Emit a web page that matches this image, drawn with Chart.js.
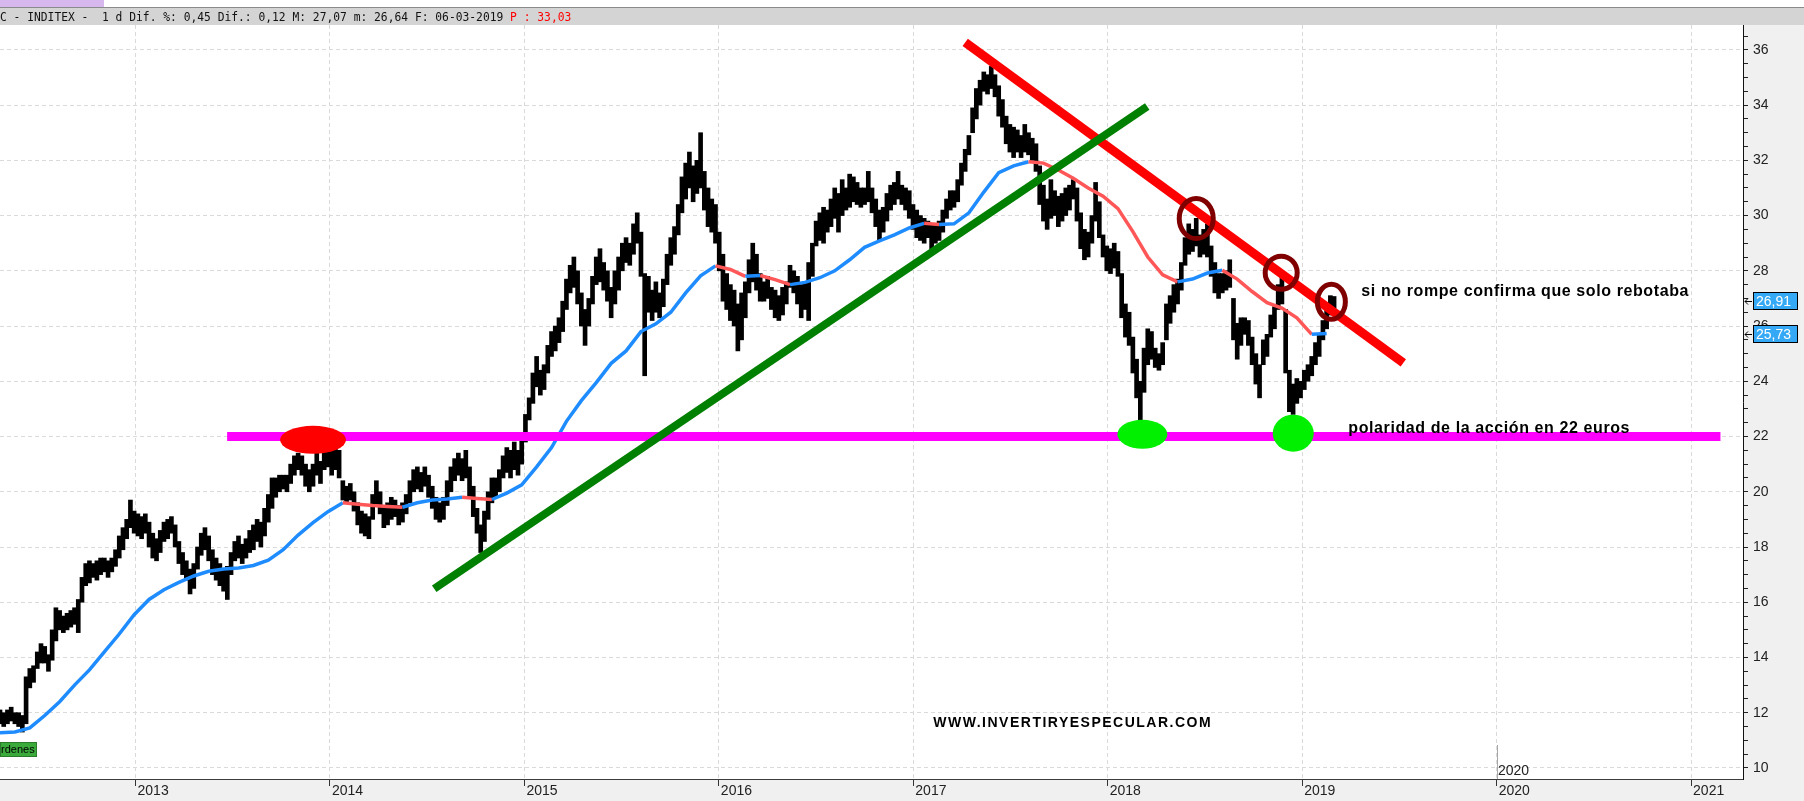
<!DOCTYPE html>
<html>
<head>
<meta charset="utf-8">
<title>INDITEX</title>
<script src="https://cdn.jsdelivr.net/npm/chart.js@4.4.1/dist/chart.umd.min.js"></script>
<style>
    html, body { margin: 0; padding: 0; background: #fff; }
    #chart { display: block; }
</style>
</head>
<body>
<canvas id="chart" width="1804" height="801"></canvas>
<script>
const firstWeek = 2012.303;      // fractional year of the first weekly bar
const weekLen = 7 / 365.25;

const priceLow = [
    11.6, 11.5, 11.6, 11.7, 11.6, 11.5, 11.3, 11.6, 12.9, 13.1,
    13.6, 13.8, 13.8, 13.5, 13.9, 14.6, 15.0, 14.9, 15.0, 15.1,
    15.2, 14.9, 16.0, 16.6, 16.7, 16.9, 16.8, 17.0, 17.1, 16.9,
    17.1, 17.3, 17.6, 17.9, 18.3, 18.7, 18.5, 18.4, 18.3, 18.5,
    18.0, 17.6, 17.5, 17.8, 18.2, 18.3, 18.5, 18.0, 17.4, 17.0,
    16.8, 16.3, 16.5, 17.2, 17.7, 17.9, 17.5, 17.0, 16.8, 16.6,
    16.4, 16.1, 17.0, 17.5, 17.6, 17.4, 17.6, 17.8, 17.9, 18.2,
    18.0, 18.4, 18.9, 19.4, 19.8, 20.0, 20.1, 20.0, 20.3, 20.6,
    20.8, 20.6, 20.2, 20.0, 20.2, 20.6, 20.3, 20.8, 20.9, 20.6,
    20.8, 20.5, 19.7, 19.6, 19.7, 19.3, 18.8, 18.5, 18.4, 18.3,
    19.0, 19.5, 19.2, 18.7, 18.8, 19.0, 19.1, 18.8, 18.9, 19.2,
    19.6, 20.0, 20.1, 20.0, 20.2, 19.8, 19.4, 19.0, 18.9, 19.0,
    19.5, 20.0, 20.4, 20.6, 20.4, 20.5, 19.8, 19.1, 18.5, 17.8,
    18.2, 19.0, 19.6, 19.8, 20.0, 20.5, 20.7, 20.5, 20.8, 20.6,
    21.0, 21.8, 22.6, 23.2, 23.8, 23.5, 23.7, 24.3, 24.9, 25.1,
    25.4, 25.8, 26.6, 27.2, 27.4, 26.8, 26.0, 25.3, 26.0, 26.8,
    27.5, 27.6, 27.3, 26.9, 26.3, 26.8, 27.3, 28.0, 28.3, 28.2,
    28.6, 29.0, 27.8, 24.2, 26.5, 26.2, 26.5, 26.3, 26.7, 27.5,
    28.2, 28.6, 29.3, 30.1, 30.6, 31.0, 30.5, 30.8, 31.0, 30.2,
    29.6, 29.4, 29.0, 28.0, 26.9, 26.6, 26.2, 26.0, 25.1, 25.5,
    26.3, 27.2, 27.6, 27.3, 26.9, 26.9, 27.0, 26.6, 26.3, 26.2,
    26.4, 26.8, 27.4, 27.2, 26.8, 26.3, 26.6, 26.2, 27.8, 28.9,
    29.1, 29.0, 29.4, 29.6, 29.9, 29.4, 30.0, 30.2, 30.3, 30.5,
    30.4, 30.3, 30.4, 30.5, 30.1, 29.6, 29.1, 29.4, 29.8, 30.2,
    30.4, 30.6, 30.4, 30.2, 29.9, 29.5, 29.2, 29.1, 29.0, 29.2,
    28.8, 29.0, 29.1, 29.4, 29.9, 30.2, 30.3, 30.5, 31.1, 31.6,
    32.2, 33.0, 33.5, 34.0, 34.5, 34.4, 34.6, 34.3, 33.6, 33.2,
    32.6, 32.3, 32.1, 32.3, 32.1, 32.3, 32.2, 32.0, 31.6, 30.4,
    29.8, 29.5, 29.9, 30.0, 29.6, 29.8, 30.0, 30.2, 30.6, 29.8,
    28.8, 28.4, 28.5, 29.0, 29.8, 29.2, 28.5, 28.0, 27.9, 28.1,
    27.8, 26.3, 25.6, 25.3, 24.3, 23.4, 22.6, 23.6, 24.6, 24.8,
    24.5, 24.4, 24.6, 25.5, 26.1, 26.5, 26.8, 27.3, 28.2, 28.6,
    28.7, 28.9, 28.5, 28.6, 28.5, 27.8, 27.2, 27.0, 27.2, 27.3,
    27.4, 25.5, 24.8, 25.3, 25.7, 25.3, 24.6, 23.9, 23.4, 24.6,
    24.9, 25.6, 25.9, 26.6, 26.8, 24.3, 22.9, 22.8, 23.2, 23.4,
    23.7, 24.0, 24.2, 24.6, 24.9, 25.5, 25.9, 26.4, 26.64
];
const priceHigh = [
    12.1, 12.0, 12.1, 12.2, 12.0, 12.0, 11.9, 13.3, 13.6, 13.7,
    14.2, 14.5, 14.4, 14.1, 15.0, 15.8, 15.7, 15.5, 15.6, 15.7,
    15.8, 16.1, 16.9, 17.4, 17.5, 17.4, 17.5, 17.6, 17.6, 17.5,
    17.6, 17.9, 18.4, 18.7, 19.0, 19.7, 19.3, 19.2, 19.1, 19.2,
    18.9, 18.5, 18.3, 18.6, 18.9, 19.0, 19.1, 18.8, 18.2, 17.8,
    17.5, 17.2, 17.4, 18.0, 18.5, 18.7, 18.4, 17.9, 17.6, 17.4,
    17.2, 17.3, 17.8, 18.2, 18.4, 18.1, 18.3, 18.6, 18.8, 19.0,
    18.9, 19.4, 19.9, 20.5, 20.5, 20.6, 20.6, 20.6, 21.0, 21.3,
    21.4, 21.3, 21.0, 20.8, 21.0, 21.4, 21.1, 21.6, 21.7, 21.5,
    21.6, 21.5, 20.4, 20.2, 20.3, 20.0, 19.6, 19.3, 19.2, 19.1,
    19.9, 20.4, 20.0, 19.5, 19.6, 19.8, 19.7, 19.5, 19.6, 19.9,
    20.4, 20.8, 20.9, 20.7, 20.9, 20.6, 20.2, 19.8, 19.6, 19.8,
    20.4, 20.9, 21.2, 21.4, 21.2, 21.5, 20.9, 20.2, 19.4, 18.8,
    19.3, 20.0, 20.5, 20.5, 20.8, 21.3, 21.6, 21.5, 21.8, 21.5,
    21.9, 22.8, 23.4, 24.3, 24.9, 24.4, 24.6, 25.3, 25.8, 26.0,
    26.3, 26.9, 27.7, 28.2, 28.5, 28.0, 27.2, 26.6, 27.0, 27.8,
    28.5, 28.8, 28.3, 28.0, 27.4, 28.0, 28.5, 29.0, 29.2, 29.0,
    29.7, 30.1, 29.4, 27.9, 27.8, 27.3, 27.6, 27.2, 27.7, 28.6,
    29.2, 29.6, 30.4, 31.4, 31.9, 32.3, 31.8, 32.0, 33.0, 31.6,
    31.0, 30.6, 30.4, 29.4, 28.6, 27.9, 27.5, 27.3, 26.8, 27.2,
    27.6, 28.4, 29.0, 28.6, 27.9, 27.6, 27.8, 27.4, 27.3, 27.1,
    27.4, 27.6, 28.2, 28.0, 27.8, 27.5, 27.6, 28.3, 29.0, 29.8,
    30.1, 30.3, 30.2, 30.6, 31.0, 30.8, 31.3, 31.0, 31.5, 31.4,
    31.2, 31.0, 31.0, 31.6, 31.0, 30.6, 30.2, 30.3, 30.8, 31.1,
    31.2, 31.6, 31.1, 31.0, 30.9, 30.4, 30.2, 30.0, 29.9, 29.8,
    29.7, 29.7, 29.8, 30.2, 30.6, 30.9, 30.9, 31.3, 31.9, 32.4,
    32.9, 33.9, 34.6, 34.9, 35.2, 35.1, 35.4, 35.1, 34.7, 34.2,
    33.6, 33.3, 33.2, 33.1, 32.9, 33.3, 33.0, 32.8, 32.6, 31.8,
    31.1, 30.6, 31.3, 30.9, 30.7, 30.8, 31.0, 31.1, 31.3, 31.0,
    30.1, 29.5, 29.4, 30.0, 31.2, 30.5, 29.3, 28.9, 28.8, 29.0,
    28.7, 27.9, 26.8, 26.5, 25.6, 24.8, 24.0, 25.2, 25.9, 25.8,
    25.2, 25.0, 25.4, 26.8, 27.1, 27.5, 27.7, 28.3, 29.2, 29.7,
    29.5, 29.9, 29.3, 29.5, 29.7, 28.9, 28.3, 27.9, 27.9, 28.0,
    28.4, 27.0, 26.1, 26.3, 26.3, 26.2, 25.6, 25.0, 24.6, 25.5,
    25.7, 26.4, 26.7, 27.5, 27.8, 26.6, 24.4, 23.9, 24.1, 24.0,
    24.4, 24.6, 24.9, 25.4, 25.7, 26.2, 26.8, 27.1, 27.07
];

// moving average, one reading every 4 weeks
const maStep = 4;
const maValues = [
    11.27, 11.30, 11.45, 11.90, 12.40, 13.00, 13.55, 14.20, 14.85, 15.55,
    16.10, 16.45, 16.72, 16.95, 17.12, 17.20, 17.24, 17.33, 17.52, 17.90,
    18.43, 18.88, 19.28, 19.60, 19.55, 19.50, 19.47, 19.44, 19.60, 19.70,
    19.74, 19.80, 19.76, 19.72, 19.95, 20.25, 20.90, 21.60, 22.55, 23.30,
    23.95, 24.65, 25.10, 25.80, 26.08, 26.50, 27.20, 27.82, 28.18, 28.05,
    27.80, 27.83, 27.68, 27.50, 27.58, 27.75, 28.00, 28.40, 28.85, 29.08,
    29.30, 29.55, 29.72, 29.68, 29.70, 30.10, 30.85, 31.55, 31.80, 31.95,
    31.90, 31.65, 31.35, 31.00, 30.70, 30.25, 29.42, 28.50, 27.85, 27.60,
    27.70, 27.92, 28.02, 27.70, 27.25, 26.85, 26.65, 26.30, 25.70, 25.73
];

const lastClose = 26.91;
const lastMa = 25.73;
const futureYear = 2020;

const headerText = 'C - INDITEX -  1 d Dif. %: 0,45 Dif.: 0,12 M: 27,07 m: 26,64 F: 06-03-2019 ';
const headerRed = 'P : 33,03';

// hand drawn marks, as (year, price)
const supportLine = [[2013.471, 22], [2021.151, 22]];
const upTrend = [[2014.536, 16.49], [2018.203, 33.95]];
const downTrend = [[2017.267, 36.27], [2019.52, 24.67]];
const redMark = [2013.913, 21.88];
const greenMarks = [[2018.178, 22.08], [2018.954, 22.12]];
const rings = [[2018.455, 29.89], [2018.892, 27.93], [2019.150, 26.88]];
const notes = [
    ['si no rompe confirma que solo rebotaba', 2019.304, 27.1],
    ['polaridad de la acción en 22 euros', 2019.237, 22.13],
    ['WWW.INVERTIRYESPECULAR.COM', 2017.103, 11.49]
];

function weekX(i) {
    return firstWeek + i * weekLen;
}

let candles = priceLow.map(function (lo, i) {
    return { x: weekX(i), y: [lo, priceHigh[i]] };
});
let maPoints = maValues.map(function (v, j) {
    return { x: weekX(j * maStep), y: v };
});
let toPoints = function (pts) {
    return pts.map(function (p) { return { x: p[0], y: p[1] }; });
};

const MA_UP = '#1e8cff';
const MA_DOWN = '#ff5757';

let decorations = {
    id: 'decorations',
    beforeDraw: function (chart) {
        let ctx = chart.ctx;
        let a = chart.chartArea;
        ctx.save();
        ctx.fillStyle = '#ffffff';
        ctx.fillRect(0, 0, chart.width, chart.height);
        // window strip on top
        ctx.fillStyle = '#d6b8ee';
        ctx.fillRect(0, 0, 104, 7);
        ctx.fillStyle = '#8a8a8a';
        ctx.fillRect(0, 7, chart.width, 1);
        ctx.fillStyle = '#d4d4d4';
        ctx.fillRect(0, 8, chart.width, a.top - 8);
        // axis panels
        ctx.fillStyle = '#f0f0f0';
        ctx.fillRect(a.right, a.top, chart.width - a.right, chart.height - a.top);
        ctx.fillRect(0, a.bottom, a.right, chart.height - a.bottom);

        // header line, the font of the original is tall and narrow
        ctx.translate(0, 21);
        ctx.scale(1, 1.15);
        ctx.font = '11.3px "DejaVu Sans Mono"';
        ctx.textBaseline = 'alphabetic';
        ctx.fillStyle = '#111';
        ctx.fillText(headerText, 0, 0);
        let w = ctx.measureText(headerText).width;
        ctx.fillStyle = '#ff0000';
        ctx.fillText(headerRed, w, 0);
        ctx.restore();
    },
    afterDatasetsDraw: function (chart) {
        let ctx = chart.ctx;
        let a = chart.chartArea;
        let xs = chart.scales.x;
        let ys = chart.scales.y;
        let px = function (p) { return [xs.getPixelForValue(p[0]), ys.getPixelForValue(p[1])]; };

        ctx.save();
        // red blob on the old top
        let r = px(redMark);
        ctx.fillStyle = '#ff0000';
        ctx.beginPath();
        ctx.ellipse(r[0], r[1], 33, 14, 0, 0, Math.PI * 2);
        ctx.fill();

        // green blobs on the support
        ctx.fillStyle = '#00f000';
        let g = px(greenMarks[0]);
        ctx.beginPath();
        ctx.ellipse(g[0], g[1], 25, 14.5, 0, 0, Math.PI * 2);
        ctx.fill();
        g = px(greenMarks[1]);
        ctx.beginPath();
        ctx.ellipse(g[0], g[1], 20.5, 18.5, 0, 0, Math.PI * 2);
        ctx.fill();

        // rings on the touches of the falling line
        let ringSize = [[17, 20], [16, 16.5], [14, 17.5]];
        ctx.strokeStyle = '#800000';
        ctx.lineWidth = 5;
        rings.forEach(function (p, i) {
            let c = px(p);
            ctx.beginPath();
            ctx.ellipse(c[0], c[1], ringSize[i][0], ringSize[i][1], 0, 0, Math.PI * 2);
            ctx.stroke();
        });

        // notes
        ctx.fillStyle = '#000';
        ctx.textBaseline = 'alphabetic';
        ctx.textAlign = 'left';
        notes.forEach(function (n, i) {
            let c = px([n[1], n[2]]);
            if (i < 2) {
                ctx.font = 'bold 16px "Liberation Sans"';
                ctx.letterSpacing = '0.6px';
            } else {
                ctx.font = 'bold 14px "Liberation Sans"';
                ctx.letterSpacing = '1.5px';
            }
            ctx.fillText(n[0], c[0], c[1]);
        });
        ctx.letterSpacing = '0px';

        // marker of the current year inside the plot
        let fx = Math.round(xs.getPixelForValue(futureYear)) + 0.5;
        ctx.strokeStyle = '#a8a8a8';
        ctx.lineWidth = 1;
        ctx.beginPath();
        ctx.moveTo(fx, a.bottom - 34);
        ctx.lineTo(fx, a.bottom);
        ctx.stroke();
        ctx.fillStyle = '#222';
        ctx.font = '14px "Liberation Sans"';
        ctx.textBaseline = 'middle';
        ctx.fillText(String(futureYear), fx + 0.5, a.bottom - 8);

        // small order tab, bottom left
        ctx.fillStyle = '#3aaa3a';
        ctx.fillRect(0, a.bottom - 37, 37, 15);
        ctx.strokeStyle = '#2a7c2a';
        ctx.strokeRect(0.5, a.bottom - 36.5, 36, 14);
        ctx.fillStyle = '#000';
        ctx.font = '11px "Liberation Sans"';
        ctx.fillText('rdenes', 1, a.bottom - 29.5);
        ctx.restore();
    },
    afterDraw: function (chart) {
        let ctx = chart.ctx;
        let a = chart.chartArea;
        let ys = chart.scales.y;
        ctx.save();
        [lastClose, lastMa].forEach(function (v) {
            let y = Math.round(ys.getPixelForValue(v));
            ctx.fillStyle = '#35a9f5';
            ctx.fillRect(a.right + 10, y - 9, 45, 18);
            ctx.strokeStyle = '#000';
            ctx.lineWidth = 1;
            ctx.strokeRect(a.right + 10.5, y - 8.5, 44, 17);
            // little arrow pointing at the axis
            ctx.beginPath();
            ctx.moveTo(a.right + 9, y + 0.5);
            ctx.lineTo(a.right + 2, y + 0.5);
            ctx.moveTo(a.right + 5, y - 2.5);
            ctx.lineTo(a.right + 2, y + 0.5);
            ctx.lineTo(a.right + 5, y + 3.5);
            ctx.stroke();
            ctx.fillStyle = '#fff';
            ctx.font = '14px "Liberation Sans"';
            ctx.textBaseline = 'middle';
            ctx.textAlign = 'left';
            ctx.fillText(v.toFixed(2).replace('.', ','), a.right + 13, y + 1);
        });
        ctx.restore();
    }
};

let chart = new Chart(document.getElementById('chart'), {
    type: 'line',
    data: {
        datasets: [
            {
                type: 'bar',
                label: 'INDITEX',
                data: candles,
                backgroundColor: '#000',
                borderWidth: 0,
                barThickness: 4,
                grouped: false,
                order: 10
            },
            {
                type: 'line',
                label: 'media',
                data: maPoints,
                borderColor: MA_UP,
                borderWidth: 3.5,
                pointRadius: 0,
                tension: 0,
                segment: {
                    borderColor: function (c) {
                        return c.p1.parsed.y < c.p0.parsed.y ? MA_DOWN : MA_UP;
                    }
                },
                order: 9
            },
            {
                type: 'line',
                label: 'soporte',
                data: toPoints(supportLine),
                borderColor: '#ff00ff',
                borderWidth: 9,
                borderCapStyle: 'butt',
                pointRadius: 0,
                order: 8
            },
            {
                type: 'line',
                label: 'bajista',
                data: toPoints(downTrend),
                borderColor: '#ff0000',
                borderWidth: 9,
                borderCapStyle: 'butt',
                pointRadius: 0,
                order: 7
            },
            {
                type: 'line',
                label: 'alcista',
                data: toPoints(upTrend),
                borderColor: '#008000',
                borderWidth: 8,
                borderCapStyle: 'butt',
                pointRadius: 0,
                order: 6
            }
        ]
    },
    options: {
        responsive: false,
        animation: false,
        layout: { padding: { top: 25, left: 0, right: 0, bottom: 0 } },
        plugins: {
            legend: { display: false },
            tooltip: { enabled: false }
        },
        scales: {
            x: {
                type: 'linear',
                position: 'bottom',
                min: 2012.303,
                max: 2021.267,
                offset: false,
                afterFit: function (s) { s.height = 22; },
                border: { display: true, color: '#3c3c3c', width: 1, dash: [4, 3] },
                grid: { color: '#dadada', offset: false, tickLength: 7, tickColor: '#333' },
                ticks: {
                    stepSize: 1,
                    includeBounds: false,
                    autoSkip: false,
                    maxRotation: 0,
                    align: 'start',
                    labelOffset: 2,
                    padding: -3,
                    color: '#222',
                    font: { family: 'Liberation Sans', size: 14 },
                    callback: function (v) { return String(v); }
                }
            },
            y: {
                type: 'linear',
                position: 'right',
                min: 9.6,
                max: 36.9,
                afterFit: function (s) { s.width = 61; },
                border: { display: true, color: '#111', width: 1, dash: [4, 3] },
                grid: {
                    color: function (c) {
                        return c.tick && c.tick.value % 2 === 0 ? '#dadada' : 'rgba(0,0,0,0)';
                    },
                    tickLength: 5,
                    tickColor: '#222'
                },
                ticks: {
                    stepSize: 0.5,
                    includeBounds: false,
                    autoSkip: false,
                    padding: 5,
                    color: '#222',
                    font: { family: 'Liberation Sans', size: 14 },
                    callback: function (v) { return v % 2 === 0 ? String(v) : ''; }
                }
            }
        }
    },
    plugins: [decorations]
});
</script>
</body>
</html>
